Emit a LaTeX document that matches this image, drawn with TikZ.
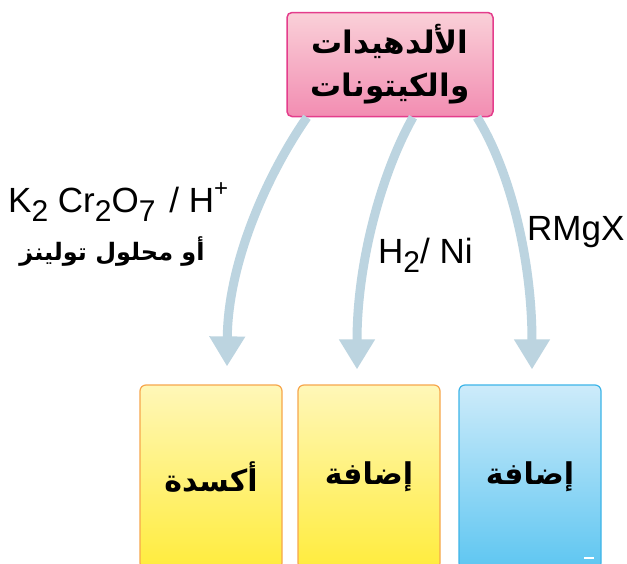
\documentclass[tikz,border=0pt]{standalone}
\usepackage{fontspec}
\setmainfont{Liberation Sans}
\newfontfamily\arabicfont[Script=Arabic]{DejaVu Sans}
\TeXXeTstate=1
\usetikzlibrary{arrows.meta,calc}
\definecolor{arrowc}{HTML}{BCD4E0}
\definecolor{pinktop}{HTML}{FAD0D8}
\definecolor{pinkbot}{HTML}{F28DB2}
\definecolor{pinkline}{HTML}{E43D8C}
\definecolor{yeltop}{HTML}{FFF7B8}
\definecolor{yelbot}{HTML}{FFEC3D}
\definecolor{yelline}{HTML}{F7A64C}
\definecolor{bluetop}{HTML}{CDEBFA}
\definecolor{bluebot}{HTML}{5EC6F1}
\definecolor{blueline}{HTML}{3DB5E8}
\newcommand\lsub[1]{\raisebox{-0.27em}{\fontsize{30}{30}\selectfont #1}}
\newcommand\lsup[1]{\raisebox{0.45em}{\fontsize{24}{24}\selectfont #1}}
\begin{document}
\begin{tikzpicture}[x=1pt,y=-1pt,
  flow/.style={line width=9pt, draw=arrowc, -{Triangle[width=34pt,length=30pt]}},
  topbox/.style={rectangle, rounded corners=5pt, line width=1.5pt, draw=pinkline,
    top color=pinktop, bottom color=pinkbot, minimum width=206pt, minimum height=104pt,
    align=center, font=\arabicfont\bfseries\fontsize{31}{43}\selectfont},
  ybox/.style={rectangle, rounded corners=6pt, line width=1.2pt, draw=yelline,
    top color=yeltop, bottom color=yelbot, minimum width=142pt, minimum height=184pt,
    font=\arabicfont\bfseries\fontsize{30}{34}\selectfont},
  bbox/.style={ybox, draw=blueline, top color=bluetop, bottom color=bluebot},
  lab/.style={inner sep=0pt, font=\fontsize{35}{40}\selectfont},
  arlab/.style={inner sep=0pt, font=\arabicfont\bfseries\fontsize{24}{28}\selectfont}]
\clip (0,0) rectangle (627,563);
\fill[white] (0,0) rectangle (627,563);

\node[topbox] (top) at (390,64.5) {\beginR الألدهيدات\endR\\\beginR والكيتونات\endR};

\node[ybox] (b1) at (211,477) {\beginR أكسدة\endR};
\node[ybox] (b2) at (369,477) {\beginR إضافة\endR};
\node[bbox] (b3) at (530,477) {\beginR إضافة\endR};
\draw[white, line width=1.5pt] (584,558) -- (594,558);

\draw[flow] ($(top.south)+(-83,0)$) .. controls +(-37,53) and +(1,-107) .. ($(b1.north)+(16,-18)$);
\draw[flow] ($(top.south)+(23,0)$) .. controls +(-30,53) and +(0,-110) .. ($(b2.north)+(-12,-15)$);
\draw[flow] ($(top.south)+(87,0)$) .. controls +(33,53) and +(0,-110) .. ($(b3.north)+(2,-15)$);

\node[lab, anchor=base west] (r1) at (8,212) {K\lsub{2} Cr\lsub{2}O\lsub{7}\hspace{0.4em}/ H\lsup{+}};
\node[arlab] (r2) at (112,252) {\beginR أو محلول تولينز\endR};
\node[lab, anchor=base west] (r3) at (378,263) {H\lsub{2}/ Ni};
\node[lab, anchor=base west] (r4) at (527,240) {RMgX};
\end{tikzpicture}
\end{document}
